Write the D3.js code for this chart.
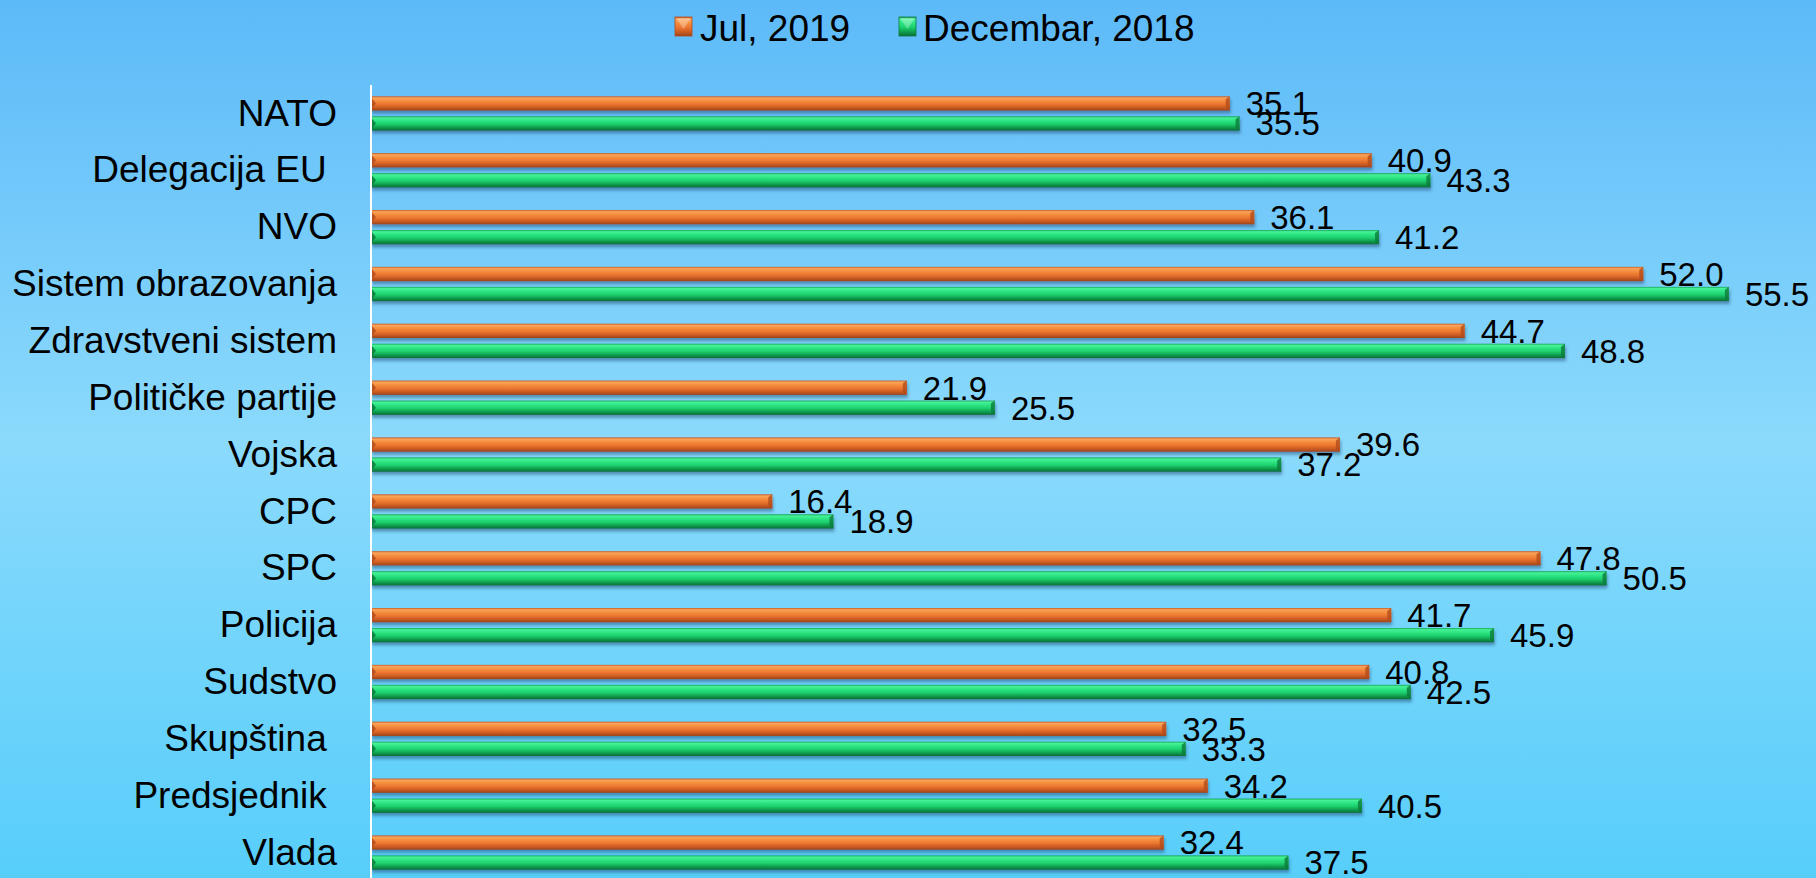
<!DOCTYPE html>
<html>
<head>
<meta charset="utf-8">
<script src="https://cdn.jsdelivr.net/npm/d3@7"></script>
<style>
  html, body { margin: 0; padding: 0; overflow: hidden; }
  svg { display: block; font-family: "Liberation Sans", Arial, sans-serif; }
  .cat { white-space: pre; }
</style>
</head>
<body>
<svg id="svg" width="1816" height="878"></svg>
<script>
'use strict';

const categories = [
  'NATO', 'Delegacija EU ', 'NVO', 'Sistem obrazovanja', 'Zdravstveni sistem',
  'Političke partije', 'Vojska', 'CPC', 'SPC', 'Policija', 'Sudstvo',
  'Skupština ', 'Predsjednik ', 'Vlada'
];
const seriesNames = ['Jul, 2019', 'Decembar, 2018'];
const jul2019 = [35.1, 40.9, 36.1, 52.0, 44.7, 21.9, 39.6, 16.4, 47.8, 41.7, 40.8, 32.5, 34.2, 32.4];
const dec2018 = [35.5, 43.3, 41.2, 55.5, 48.8, 25.5, 37.2, 18.9, 50.5, 45.9, 42.5, 33.3, 40.5, 37.5];

const width = 1816;
const height = 878;
const svg = d3.select('#svg');
const defs = svg.append('defs');

// Background gradient
const bg = defs.append('linearGradient').attr('id', 'bg')
  .attr('x1', 0).attr('y1', 0).attr('x2', 0).attr('y2', 1);
[[0, '#5dbaf8'], [0.5, '#8bdafc'], [1, '#57cefa']].forEach(s =>
  bg.append('stop').attr('offset', s[0]).attr('stop-color', s[1]));

// Bar gradients (bevel look)
const palettes = [
  { id: 'g0', stops: [[0, '#c85a24'], [0.12, '#f8a45c'], [0.3, '#f5903f'], [0.55, '#ec7530'], [0.8, '#c95a22'], [1, '#9a4418']], cap: '#b34c1c' },
  { id: 'g1', stops: [[0, '#16a556'], [0.12, '#47f297'], [0.3, '#2ee584'], [0.55, '#1ccf6c'], [0.8, '#0f9a4c'], [1, '#0a6d35']], cap: '#0c7a3c' }
];
palettes.forEach(p => {
  const g = defs.append('linearGradient').attr('id', p.id)
    .attr('x1', 0).attr('y1', 0).attr('x2', 0).attr('y2', 1);
  p.stops.forEach(s => g.append('stop').attr('offset', s[0]).attr('stop-color', s[1]));
});

defs.append('filter').attr('id', 'shadow')
  .attr('x', '-2%').attr('y', '-50%').attr('width', '104%').attr('height', '200%')
  .append('feDropShadow')
  .attr('dx', 1).attr('dy', 3).attr('stdDeviation', 1.5)
  .attr('flood-color', '#1b4a70').attr('flood-opacity', 0.5);

svg.append('rect').attr('width', width).attr('height', height).attr('fill', 'url(#bg)');

// Scales
const x = d3.scaleLinear().domain([0, 60]).range([371, 1839]);
const y0 = d3.scaleBand().domain(categories).range([85, 881]);
const y1 = d3.scaleBand().domain([0, 1])
  .range([0, y0.bandwidth()]).paddingInner(0.285).paddingOuter(0.564);

const rows = categories.map((c, i) => ({ cat: c, values: [jul2019[i], dec2018[i]] }));

const group = svg.append('g').selectAll('g')
  .data(rows)
  .join('g')
  .attr('transform', d => `translate(0,${y0(d.cat)})`);

const bars = group.selectAll('g.bar')
  .data(d => d.values.map((v, k) => ({ v, k })))
  .join('g')
  .attr('class', 'bar');

const bh = y1.bandwidth();

bars.append('rect')
  .attr('x', x(0))
  .attr('y', d => y1(d.k))
  .attr('width', d => x(d.v) - x(0))
  .attr('height', bh)
  .attr('fill', d => `url(#${palettes[d.k].id})`)
  .attr('filter', 'url(#shadow)');

// Left and right bevel caps
bars.append('path')
  .attr('d', d => {
    const t = y1(d.k);
    return `M${x(0)},${t + 1}L${x(0) + 5},${t + bh / 2}L${x(0)},${t + bh - 1}Z`;
  })
  .attr('fill', d => palettes[d.k].cap)
  .attr('opacity', 0.85);

bars.append('path')
  .attr('d', d => {
    const t = y1(d.k);
    const r = x(d.v);
    return `M${r - 4},${t + 3}L${r},${t}L${r},${t + bh}L${r - 4},${t + bh - 3}Z`;
  })
  .attr('fill', d => palettes[d.k].cap)
  .attr('opacity', 0.8);

// Value labels
bars.append('text')
  .attr('x', d => x(d.v) + 16)
  .attr('y', d => y1(d.k) + bh / 2)
  .attr('dy', '0.36em')
  .attr('font-size', 33)
  .attr('fill', '#000')
  .text(d => d3.format('.1f')(d.v));

// Category labels
svg.append('g').selectAll('text')
  .data(categories)
  .join('text')
  .attr('class', 'cat')
  .attr('x', 337)
  .attr('y', d => y0(d) + y0.bandwidth() / 2)
  .attr('dy', '0.33em')
  .attr('text-anchor', 'end')
  .attr('font-size', 37)
  .attr('fill', '#000')
  .text(d => d);

// Vertical axis line
svg.append('line')
  .attr('x1', x(0)).attr('x2', x(0))
  .attr('y1', 85).attr('y2', height)
  .attr('stroke', '#fff').attr('stroke-width', 2);

// Legend
const legendItems = [
  { name: seriesNames[0], sx: 675, tx: 700 },
  { name: seriesNames[1], sx: 899, tx: 923 }
];
const legend = svg.append('g').selectAll('g')
  .data(legendItems)
  .join('g');

legend.append('rect')
  .attr('x', d => d.sx).attr('y', 17)
  .attr('width', 17).attr('height', 19)
  .attr('fill', (d, i) => `url(#${palettes[i].id})`)
  .attr('stroke', (d, i) => palettes[i].cap).attr('stroke-width', 0.8);

legend.append('path')
  .attr('d', d => `M${d.sx + 1},18L${d.sx + 16},18L${d.sx + 8.5},29Z`)
  .attr('fill', '#fff').attr('opacity', 0.3);

legend.append('text')
  .attr('x', d => d.tx).attr('y', 41)
  .attr('font-size', 37)
  .attr('fill', '#000')
  .text(d => d.name);
</script>
</body>
</html>
